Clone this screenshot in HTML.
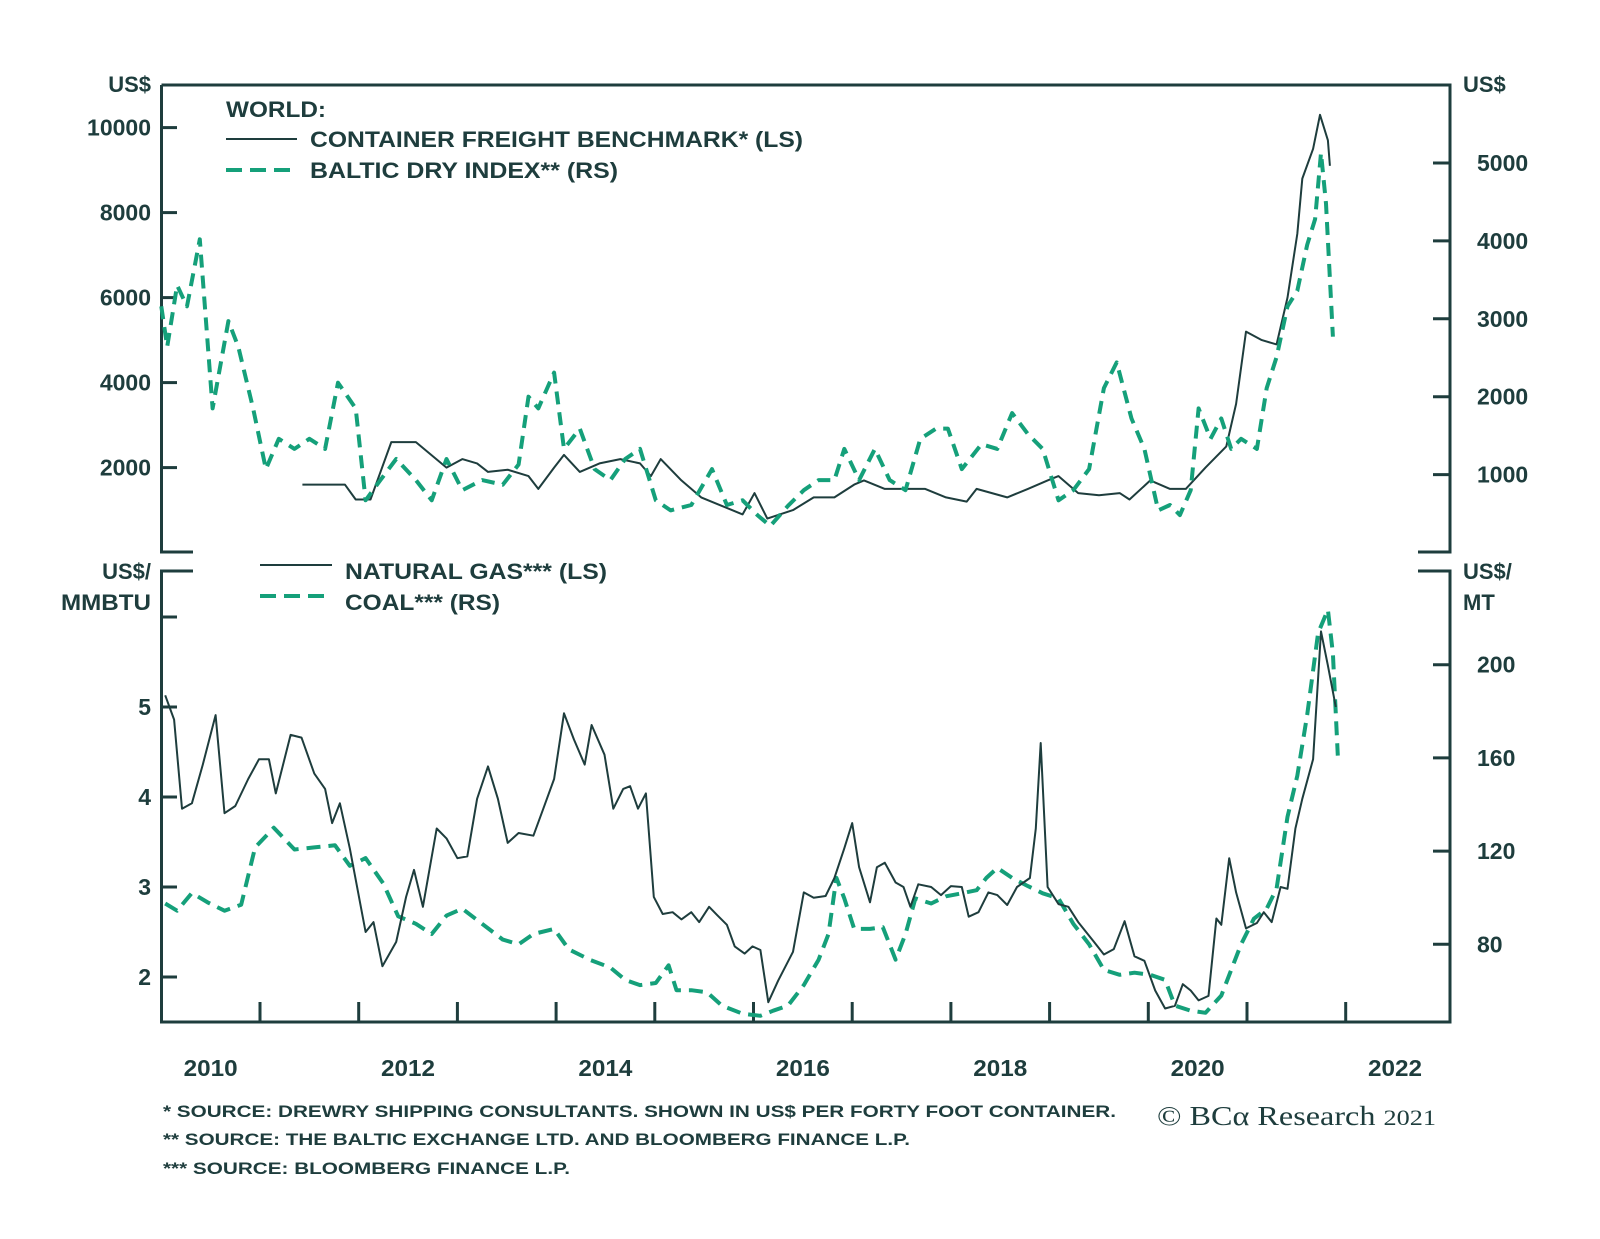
<!DOCTYPE html>
<html><head><meta charset="utf-8">
<style>
html,body{margin:0;padding:0;background:#fff;}
svg{display:block;}
text{font-family:"Liberation Sans",Arial,sans-serif;font-weight:bold;fill:#1e3d3d;}
</style></head>
<body>
<svg id="chart" width="1600" height="1239" viewBox="0 0 1600 1239" xmlns="http://www.w3.org/2000/svg">
<g id="frame" stroke="#1e3d3d" stroke-width="3" fill="none">
  <path d="M161.5 85 H1450 V552 H1418 M161.5 85 V552 H193"/>
  <path d="M193 571 H161.5 V1022 H1450 V571 H1418"/>
</g>
<g id="axes"></g>
<g id="series"></g>
<g>
  <text x="226" y="117" font-size="22" textLength="100" lengthAdjust="spacingAndGlyphs">WORLD:</text>
  <line x1="226" y1="139" x2="297" y2="139" stroke="#1e3d3d" stroke-width="2"/>
  <text x="310" y="147" font-size="22" textLength="493" lengthAdjust="spacingAndGlyphs">CONTAINER FREIGHT BENCHMARK* (LS)</text>
  <line x1="226" y1="170" x2="297" y2="170" stroke="#15a07a" stroke-width="4" stroke-dasharray="16 8"/>
  <text x="310" y="178" font-size="22" textLength="308" lengthAdjust="spacingAndGlyphs">BALTIC DRY INDEX** (RS)</text>
</g>
<g>
  <line x1="260" y1="565" x2="332" y2="565" stroke="#1e3d3d" stroke-width="2"/>
  <text x="345" y="579" font-size="22" textLength="262" lengthAdjust="spacingAndGlyphs">NATURAL GAS*** (LS)</text>
  <line x1="260" y1="596" x2="332" y2="596" stroke="#15a07a" stroke-width="4" stroke-dasharray="16 8"/>
  <text x="345" y="610" font-size="22" textLength="155" lengthAdjust="spacingAndGlyphs">COAL*** (RS)</text>
</g>
<g font-size="22">
  <text x="151" y="92" text-anchor="end">US$</text>
  <text x="1463" y="92">US$</text>
  <text x="151" y="579" text-anchor="end">US$/</text>
  <text x="151" y="610" text-anchor="end" textLength="90" lengthAdjust="spacingAndGlyphs">MMBTU</text>
  <text x="1463" y="579">US$/</text>
  <text x="1463" y="610">MT</text>
</g>
<g font-size="17">
  <text x="163" y="1117" textLength="953" lengthAdjust="spacingAndGlyphs">*   SOURCE: DREWRY SHIPPING CONSULTANTS. SHOWN IN US$ PER FORTY FOOT CONTAINER.</text>
  <text x="163" y="1145" textLength="747" lengthAdjust="spacingAndGlyphs">**  SOURCE: THE BALTIC EXCHANGE LTD. AND BLOOMBERG FINANCE L.P.</text>
  <text x="163" y="1174" textLength="407" lengthAdjust="spacingAndGlyphs">***  SOURCE: BLOOMBERG FINANCE L.P.</text>
</g>
<text x="1157" y="1125" font-size="27" textLength="279" lengthAdjust="spacingAndGlyphs" style="font-family:'Liberation Serif',serif;font-weight:normal">© BCα Research <tspan font-size="22">2021</tspan></text>
</svg>
<script>
const freightDates=[2011.43,2011.86,2011.97,2012.12,2012.33,2012.58,2012.89,2013.05,2013.20,2013.31,2013.51,2013.72,2013.82,2013.98,2014.08,2014.24,2014.44,2014.65,2014.85,2014.96,2015.06,2015.27,2015.47,2015.68,2015.89,2016.01,2016.14,2016.40,2016.61,2016.82,2017.02,2017.12,2017.33,2017.54,2017.74,2017.95,2018.16,2018.26,2018.57,2018.78,2018.98,2019.09,2019.29,2019.50,2019.71,2019.81,2020.02,2020.22,2020.38,2020.58,2020.79,2020.89,2020.99,2021.15,2021.30,2021.41,2021.51,2021.56,2021.67,2021.74,2021.82,2021.84];
const freightValues=[1600,1600,1250,1250,2600,2600,2000,2200,2100,1900,1950,1800,1500,2000,2300,1900,2100,2200,2100,1800,2200,1700,1300,1100,900,1400,800,1000,1300,1300,1600,1700,1500,1500,1500,1300,1200,1500,1300,1500,1700,1800,1400,1350,1400,1250,1700,1500,1500,2000,2500,3500,5200,5000,4900,6000,7500,8800,9500,10300,9700,9100];
const balticDates=[2010.00,2010.06,2010.16,2010.26,2010.39,2010.52,2010.68,2010.78,2010.93,2011.06,2011.19,2011.35,2011.50,2011.66,2011.79,2011.97,2012.07,2012.22,2012.38,2012.58,2012.74,2012.89,2013.05,2013.25,2013.46,2013.62,2013.72,2013.82,2013.98,2014.08,2014.24,2014.39,2014.55,2014.70,2014.85,2015.01,2015.16,2015.37,2015.58,2015.73,2015.89,2016.04,2016.17,2016.35,2016.51,2016.66,2016.82,2016.92,2017.07,2017.23,2017.38,2017.54,2017.69,2017.85,2017.97,2018.11,2018.31,2018.47,2018.62,2018.78,2018.93,2019.09,2019.24,2019.40,2019.55,2019.68,2019.83,2019.96,2020.10,2020.22,2020.32,2020.43,2020.51,2020.63,2020.74,2020.84,2020.94,2021.10,2021.20,2021.30,2021.41,2021.51,2021.61,2021.69,2021.75,2021.80,2021.87];
const balticValues=[3160,2640,3430,3160,4020,1850,2970,2640,1850,1070,1460,1330,1460,1330,2180,1850,670,930,1200,930,670,1200,800,930,870,1130,2000,1850,2310,1330,1590,1070,930,1200,1330,670,540,610,1070,610,670,480,340,600,800,930,930,1330,930,1330,930,800,1460,1590,1590,1070,1390,1330,1790,1520,1330,670,800,1070,2110,2440,1720,1330,540,610,480,800,1850,1460,1720,1330,1460,1330,2110,2510,3160,3360,3950,4280,5130,4480,2770];
const gasDates=[2010.04,2010.13,2010.21,2010.31,2010.42,2010.55,2010.64,2010.75,2010.88,2010.99,2011.09,2011.16,2011.31,2011.42,2011.55,2011.66,2011.73,2011.81,2011.91,2012.07,2012.15,2012.24,2012.38,2012.48,2012.56,2012.65,2012.79,2012.89,2013.00,2013.10,2013.20,2013.31,2013.41,2013.51,2013.62,2013.77,2013.87,2013.98,2014.08,2014.18,2014.29,2014.36,2014.49,2014.58,2014.68,2014.75,2014.83,2014.91,2014.99,2015.08,2015.18,2015.27,2015.37,2015.45,2015.55,2015.63,2015.73,2015.81,2015.91,2015.99,2016.07,2016.15,2016.25,2016.40,2016.51,2016.61,2016.73,2016.82,2016.92,2017.00,2017.07,2017.18,2017.25,2017.33,2017.44,2017.52,2017.59,2017.67,2017.80,2017.90,2018.00,2018.11,2018.18,2018.28,2018.38,2018.47,2018.57,2018.67,2018.80,2018.86,2018.91,2018.98,2019.09,2019.19,2019.29,2019.45,2019.55,2019.65,2019.76,2019.86,2019.96,2020.07,2020.17,2020.27,2020.35,2020.43,2020.51,2020.61,2020.69,2020.74,2020.82,2020.89,2020.99,2021.10,2021.17,2021.25,2021.34,2021.41,2021.49,2021.56,2021.67,2021.75,2021.82,2021.90];
const gasValues=[5.13,4.86,3.87,3.93,4.36,4.91,3.82,3.9,4.2,4.42,4.42,4.04,4.69,4.66,4.26,4.09,3.71,3.93,3.43,2.5,2.61,2.12,2.39,2.89,3.19,2.78,3.65,3.54,3.32,3.34,3.98,4.34,3.98,3.49,3.6,3.57,3.87,4.2,4.93,4.64,4.36,4.8,4.47,3.87,4.09,4.12,3.87,4.04,2.89,2.7,2.72,2.64,2.72,2.61,2.78,2.69,2.58,2.34,2.26,2.34,2.3,1.72,1.96,2.28,2.94,2.88,2.9,3.1,3.43,3.71,3.22,2.83,3.22,3.27,3.05,3.0,2.78,3.03,3.0,2.91,3.01,3.0,2.67,2.72,2.94,2.91,2.8,3.0,3.1,3.65,4.6,3.0,2.81,2.78,2.61,2.39,2.25,2.31,2.62,2.23,2.18,1.85,1.65,1.68,1.92,1.85,1.74,1.79,2.65,2.58,3.32,2.94,2.54,2.6,2.72,2.61,3.0,2.98,3.65,3.98,4.42,5.84,5.46,5.0];
const coalDates=[2010.04,2010.16,2010.31,2010.47,2010.64,2010.81,2010.95,2011.14,2011.35,2011.55,2011.76,2011.91,2012.07,2012.25,2012.40,2012.58,2012.74,2012.89,2013.05,2013.25,2013.46,2013.62,2013.77,2013.98,2014.13,2014.34,2014.55,2014.70,2014.85,2015.01,2015.14,2015.22,2015.37,2015.53,2015.68,2015.89,2016.07,2016.20,2016.35,2016.51,2016.66,2016.76,2016.84,2016.92,2017.02,2017.18,2017.31,2017.44,2017.54,2017.64,2017.80,2017.95,2018.11,2018.26,2018.36,2018.47,2018.62,2018.78,2018.93,2019.09,2019.24,2019.40,2019.55,2019.71,2019.86,2020.02,2020.17,2020.27,2020.43,2020.58,2020.74,2020.84,2020.94,2021.07,2021.20,2021.30,2021.41,2021.51,2021.61,2021.72,2021.82,2021.87,2021.92];
const coalValues=[97.5,94.4,102,98,94.4,97,121.6,130,120.7,121.6,122.5,113.7,117,106,92,88.8,84.4,92.3,95.3,88.8,82,80,84.4,86.6,77.8,73.4,70,64.7,62.5,63.4,71,60.3,60.3,59.4,53.7,50.2,49.3,51.5,53.7,62.5,73.4,84.4,108.5,99.7,86.6,86.6,87.4,73.4,84.4,99.7,97.5,100.6,101.9,103.2,108.5,112.8,108.5,105,101.9,99.7,88.8,80,69,66.9,67.8,66.9,64.7,53.7,51.5,50.6,58,69,80,91,95.3,104,134.7,152.3,178.5,213.6,223.6,204.8,161];
const topLeftTicks=[2000,4000,6000,8000,10000];
const topRightTicks=[1000,2000,3000,4000,5000];
const botLeftTicks=[2,3,4,5,6];
const botLeftLabels=["2","3","4","5",""];
const botRightTicks=[80,120,160,200];
const yearLabels=[2010,2012,2014,2016,2018,2020,2022];
const yearTicks=[2011,2012,2013,2014,2015,2016,2017,2018,2019,2020,2021,2022];

const NS="http://www.w3.org/2000/svg";
const DARK="#1e3d3d", GREEN="#15a07a";
const X=t=>260+(t-2011)*98.7;
const YTL=v=>127.6+(10000-v)*0.0425;
const YTR=v=>163+(5000-v)*0.0779;
const YBL=v=>707+(5-v)*90;
const YBR=v=>664.7+(200-v)*2.33;
const axes=document.getElementById('axes');
const series=document.getElementById('series');
function mk(tag,attrs,parent){const e=document.createElementNS(NS,tag);for(const k in attrs)e.setAttribute(k,attrs[k]);parent.appendChild(e);return e;}
function tickL(y,label,parent){
  const l=mk('line',{x1:161.5,x2:177,y1:y,y2:y,stroke:DARK,'stroke-width':3},parent);
  
  
  if(label!==""){const t=mk('text',{x:151,y:y+8,'text-anchor':'end','font-size':23},parent);t.textContent=label;
  
  }
}
function tickR(y,label,parent){
  const l=mk('line',{x1:1433,x2:1450,y1:y,y2:y,stroke:DARK,'stroke-width':3},parent);
  
  
  const t=mk('text',{x:1477,y:y+8,'font-size':23},parent);t.textContent=label;
  
  
}
topLeftTicks.forEach(v=>tickL(YTL(v),String(v),axes));
topRightTicks.forEach(v=>tickR(YTR(v),String(v),axes));
botLeftTicks.forEach((v,i)=>tickL(YBL(v),botLeftLabels[i],axes));
botRightTicks.forEach(v=>tickR(YBR(v),String(v),axes));
yearTicks.forEach(y=>{const l=mk('line',{x1:X(y),x2:X(y),y1:1002,y2:1022,stroke:DARK,'stroke-width':3},axes);
  
  });
yearLabels.forEach(y=>{const t=mk('text',{x:X(y+0.5),y:1076,'text-anchor':'middle','font-size':23,textLength:54,lengthAdjust:'spacingAndGlyphs'},axes);t.textContent=String(y);
  
  });
function line(dates,vals,yf,color,w,dash,name){
  const d=dates.map((t,i)=>(i?'L':'M')+X(t).toFixed(1)+' '+yf(vals[i]).toFixed(1)).join(' ');
  const p=mk('path',{d:d,fill:'none',stroke:color,'stroke-width':w,'stroke-linejoin':'round'},series);
  if(dash)p.setAttribute('stroke-dasharray',dash);
  
  
}
line(freightDates,freightValues,YTL,DARK,2,null,'container-freight-line');
line(balticDates,balticValues,YTR,GREEN,4,'13 8','baltic-dry-line');
line(coalDates,coalValues,YBR,GREEN,4,'14 8','coal-line');
line(gasDates,gasValues,YBL,DARK,2,null,'natural-gas-line');
</script>
</body></html>
